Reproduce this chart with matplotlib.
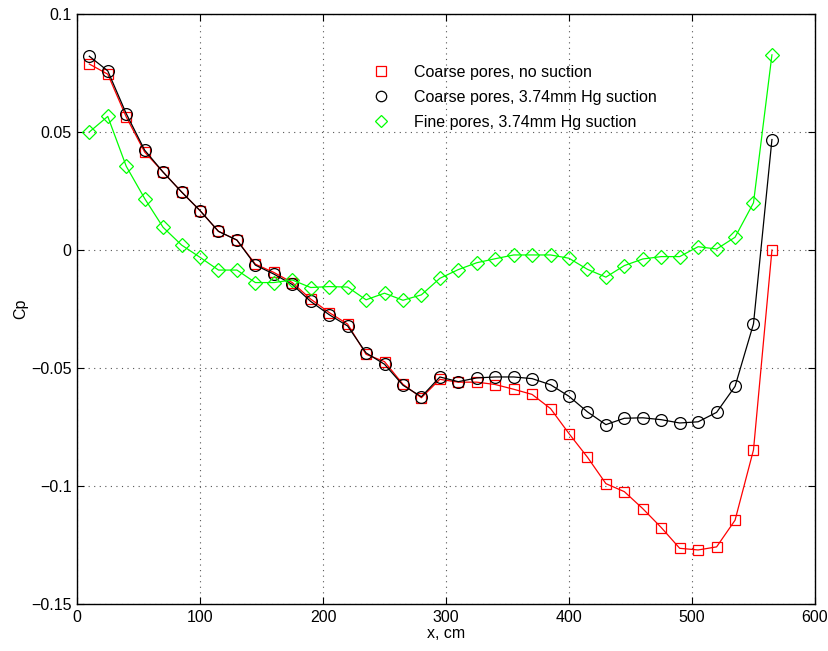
import matplotlib
matplotlib.use("Agg")
import matplotlib.pyplot as plt
from matplotlib.lines import Line2D

plt.rcParams['font.family'] = ['Liberation Sans', 'DejaVu Sans']

x_cm = [10, 25, 40, 55, 70, 85, 100, 115, 130, 145, 160, 175, 190, 205, 220,
        235, 250, 265, 280, 295, 310, 325, 340, 355, 370, 385, 400, 415, 430,
        445, 460, 475, 490, 505, 520, 535, 550, 565]

cp_coarse_no_suction = [0.0788, 0.0745, 0.0564, 0.0415, 0.0330, 0.0246, 0.0167,
                        0.0079, 0.0042, -0.0060, -0.0095, -0.0138, -0.0208,
                        -0.0265, -0.0314, -0.0442, -0.0473, -0.0569, -0.0626,
                        -0.0548, -0.0560, -0.0560, -0.0570, -0.0590, -0.0612,
                        -0.0672, -0.0778, -0.0878, -0.0990, -0.1024, -0.1096,
                        -0.1176, -0.1264, -0.1271, -0.1258, -0.1145, -0.0847, 0.0]

cp_coarse_suction = [0.0821, 0.0759, 0.0578, 0.0423, 0.0330, 0.0246, 0.0167,
                     0.0079, 0.0042, -0.0064, -0.0102, -0.0146, -0.0218,
                     -0.0274, -0.0322, -0.0436, -0.0484, -0.0573, -0.0622,
                     -0.0538, -0.0558, -0.0542, -0.0538, -0.0538, -0.0545,
                     -0.0571, -0.0620, -0.0686, -0.0740, -0.0713, -0.0711,
                     -0.0719, -0.0733, -0.0728, -0.0688, -0.0578, -0.0313, 0.0468]

cp_fine_suction = [0.0500, 0.0566, 0.0355, 0.0218, 0.0096, 0.0021, -0.0031,
                   -0.0085, -0.0085, -0.0138, -0.0138, -0.0127, -0.0159,
                   -0.0155, -0.0157, -0.0211, -0.0183, -0.0213, -0.0190,
                   -0.0120, -0.0083, -0.0054, -0.0037, -0.0021, -0.0021,
                   -0.0021, -0.0035, -0.0082, -0.0115, -0.0066, -0.0038,
                   -0.0028, -0.0028, 0.0014, 0.0004, 0.0054, 0.0200, 0.0827]

labels = ['Coarse pores, no suction',
          'Coarse pores, 3.74mm Hg suction',
          'Fine pores, 3.74mm Hg suction']

xticks = [0, 100, 200, 300, 400, 500, 600]
yticks = [-0.15, -0.1, -0.05, 0, 0.05, 0.1]
yticklabels = ['\u22120.15', '\u22120.1', '\u22120.05', '0', '0.05', '0.1']

fig = plt.figure(figsize=(8.29, 6.51), dpi=100)
ax = fig.add_axes([0.0929, 0.0722, 0.8902, 0.9063])

ax.plot(x_cm, cp_coarse_no_suction, color='#ff0000', lw=0.9, marker='s',
        markersize=7, markerfacecolor='none', markeredgecolor='#ff0000', mew=0.9)
ax.plot(x_cm, cp_coarse_suction, color='black', lw=0.9, marker='o',
        markersize=8.5, markerfacecolor='none', markeredgecolor='black', mew=0.9)
ax.plot(x_cm, cp_fine_suction, color='#00ff00', lw=0.9, marker='D',
        markersize=6.8, markerfacecolor='none', markeredgecolor='#00ff00', mew=0.9)

ax.set_xlim(0, 600)
ax.set_ylim(-0.15, 0.1)
ax.set_xticks(xticks)
ax.set_yticks(yticks)
ax.set_yticklabels(yticklabels)
ax.tick_params(direction='in', top=True, right=True, labelsize=11.5, length=5,
               width=0.8, pad=4)
ax.grid(True, color='#555555', linestyle=(0, (1, 4)), linewidth=0.8)
for s in ax.spines.values():
    s.set_linewidth(1.0)

ax.set_xlabel('x, cm', fontsize=11.5, labelpad=1)
ax.set_ylabel('Cp', fontsize=11.5, labelpad=2)

handles = [
    Line2D([], [], linestyle='none', marker='s', markersize=7,
           markerfacecolor='none', markeredgecolor='#ff0000', mew=0.9),
    Line2D([], [], linestyle='none', marker='o', markersize=7.5,
           markerfacecolor='none', markeredgecolor='black', mew=0.9),
    Line2D([], [], linestyle='none', marker='D', markersize=6.5,
           markerfacecolor='none', markeredgecolor='#00ff00', mew=0.9),
]
ax.legend(handles, labels, loc='upper left', bbox_to_anchor=(0.38, 0.938),
          frameon=False, fontsize=11.5, handlelength=1.2, handletextpad=1.45,
          labelspacing=0.62, numpoints=1)

fig.savefig('out.png', dpi=100)
